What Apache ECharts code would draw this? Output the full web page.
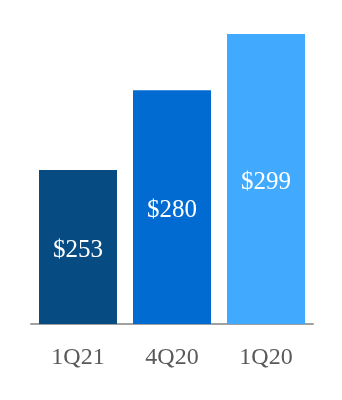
<!DOCTYPE html>
<html><head><meta charset="utf-8">
<script src="https://cdn.jsdelivr.net/npm/echarts@6/dist/echarts.min.js"></script>
<style>html,body{margin:0;padding:0;background:#fff}#c{width:342px;height:400px}</style>
</head><body><div id="c"></div>
<script>
var categories = ['1Q21', '4Q20', '1Q20'];
var values = [253, 280, 299];
var barColors = ['#074b83', '#026bd2', '#41aaff'];

var chart = echarts.init(document.getElementById('c'), null, {renderer: 'canvas'});
chart.setOption({
  animation: false,
  backgroundColor: '#ffffff',
  grid: {left: 31, right: 29, top: 31, bottom: 76},
  xAxis: {
    type: 'category',
    data: categories,
    axisTick: {show: false},
    axisLine: {lineStyle: {color: '#a0a0a0', width: 2}},
    axisLabel: {color: '#595959', fontFamily: 'Liberation Serif', fontSize: 24, margin: 22}
  },
  yAxis: {
    type: 'value', min: 201, max: 300, show: false, splitLine: {show: false}
  },
  series: [{
    type: 'bar',
    barWidth: 78,
    data: values.map(function (v, i) { return {value: v, itemStyle: {color: barColors[i]}}; }),
    label: {
      show: true, position: 'inside', offset: [0, 3],
      formatter: function (p) { return '$' + p.value; },
      color: '#ffffff', fontFamily: 'Liberation Serif', fontSize: 25
    }
  }]
});
</script></body></html>
